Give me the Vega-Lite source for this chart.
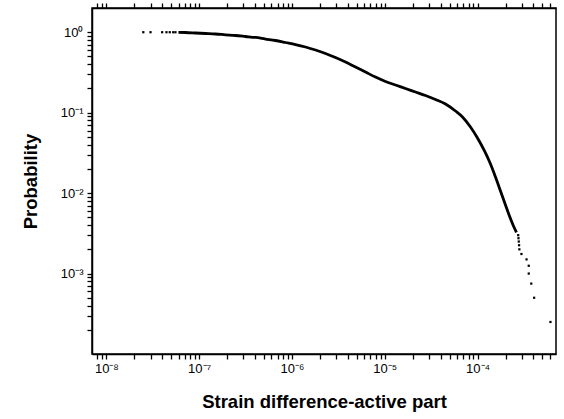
{
  "$schema": "https://vega.github.io/schema/vega-lite/v6.json",
  "width": 464,
  "height": 346,
  "autosize": {"type": "none"},
  "padding": {"left": 92, "top": 8, "right": 8, "bottom": 65},
  "background": "white",
  "config": {
    "view": {"stroke": "black", "strokeWidth": 1.5},
    "axis": {
      "domainColor": "black",
      "domainWidth": 1.5,
      "tickColor": "black",
      "tickWidth": 1.3,
      "tickSize": 5,
      "grid": false,
      "labelFont": "Liberation Sans",
      "labelFontSize": 13,
      "labelColor": "black",
      "labelOverlap": false,
      "labelFlush": false,
      "titleFont": "Liberation Sans",
      "titleFontSize": 18.5,
      "titleFontWeight": "bold",
      "titleColor": "black"
    }
  },
  "datasets": {
    "dense": [
      {"x": 5.98e-8, "y": 0.998},
      {"x": 7.12e-8, "y": 0.992},
      {"x": 9.13e-8, "y": 0.978},
      {"x": 1.17e-7, "y": 0.964},
      {"x": 1.499e-7, "y": 0.95},
      {"x": 1.921e-7, "y": 0.929},
      {"x": 2.461e-7, "y": 0.91},
      {"x": 3.155e-7, "y": 0.885},
      {"x": 4.044e-7, "y": 0.86},
      {"x": 5.183e-7, "y": 0.823},
      {"x": 6.643e-7, "y": 0.789},
      {"x": 8.514e-7, "y": 0.745},
      {"x": 1.091e-6, "y": 0.703},
      {"x": 1.398e-6, "y": 0.655},
      {"x": 1.792e-6, "y": 0.601},
      {"x": 2.297e-6, "y": 0.544},
      {"x": 2.943e-6, "y": 0.485},
      {"x": 3.773e-6, "y": 0.426},
      {"x": 4.834e-6, "y": 0.369},
      {"x": 6.196e-6, "y": 0.32},
      {"x": 7.943e-6, "y": 0.277},
      {"x": 1.018e-5, "y": 0.244},
      {"x": 1.305e-5, "y": 0.221},
      {"x": 1.672e-5, "y": 0.1996},
      {"x": 2.143e-5, "y": 0.1806},
      {"x": 2.747e-5, "y": 0.1633},
      {"x": 3.519e-5, "y": 0.1457},
      {"x": 4.511e-5, "y": 0.1281},
      {"x": 5.781e-5, "y": 0.1048},
      {"x": 6.878e-5, "y": 0.0883},
      {"x": 8.388e-5, "y": 0.0663},
      {"x": 9.98e-5, "y": 0.0484},
      {"x": 1.187e-4, "y": 0.0334},
      {"x": 1.378e-4, "y": 0.023},
      {"x": 1.56e-4, "y": 0.01585},
      {"x": 1.766e-4, "y": 0.01062},
      {"x": 1.999e-4, "y": 0.00711},
      {"x": 2.207e-4, "y": 0.00519},
      {"x": 2.437e-4, "y": 0.0039},
      {"x": 2.626e-4, "y": 0.00325}
    ],
    "sparse": [
      {"x": 2.5e-8, "y": 1.0},
      {"x": 2.99e-8, "y": 1.0},
      {"x": 3.99e-8, "y": 0.9999},
      {"x": 4.44e-8, "y": 0.9998},
      {"x": 4.82e-8, "y": 0.9997},
      {"x": 5.25e-8, "y": 0.9995},
      {"x": 5.55e-8, "y": 0.9993},
      {"x": 2.74e-4, "y": 0.003},
      {"x": 2.76e-4, "y": 0.00275},
      {"x": 2.78e-4, "y": 0.0025},
      {"x": 2.8e-4, "y": 0.00225},
      {"x": 2.82e-4, "y": 0.002},
      {"x": 2.97e-4, "y": 0.00175},
      {"x": 3.37e-4, "y": 0.0015},
      {"x": 3.56e-4, "y": 0.00125},
      {"x": 3.56e-4, "y": 0.001},
      {"x": 3.79e-4, "y": 0.00075},
      {"x": 4.07e-4, "y": 0.0005},
      {"x": 6.1e-4, "y": 0.00025}
    ]
  },
  "layer": [
    {
      "data": {"name": "dense"},
      "mark": {"type": "line", "color": "black", "strokeWidth": 2.8, "interpolate": "monotone"},
      "encoding": {
        "x": {
          "field": "x", "type": "quantitative",
          "scale": {"type": "log", "domain": [7e-9, 7e-4], "nice": false},
          "axis": {
            "orient": "bottom",
            "values": [8e-9, 9e-9, 1e-8, 2e-8, 3e-8, 4e-8, 5e-8, 6e-8, 7e-8, 8e-8, 9e-8, 1e-7, 2e-7, 3e-7, 4e-7, 5e-7, 6e-7, 7e-7, 8e-7, 9e-7, 1e-6, 2e-6, 3e-6, 4e-6, 5e-6, 6e-6, 7e-6, 8e-6, 9e-6, 1e-5, 2e-5, 3e-5, 4e-5, 5e-5, 6e-5, 7e-5, 8e-5, 9e-5, 1e-4, 2e-4, 3e-4, 4e-4, 5e-4, 6e-4],
            "labelExpr": "abs(log(datum.value)/LN10 - round(log(datum.value)/LN10)) < 0.001 ? '10' + (datum.value < 0.5 ? '⁻' : '') + ['⁰','¹','²','³','⁴','⁵','⁶','⁷','⁸','⁹'][abs(round(log(datum.value)/LN10))] : ''",
            "labelPadding": 3,
            "title": "Strain difference-active part",
            "titlePadding": 17
          }
        },
        "y": {
          "field": "y", "type": "quantitative",
          "scale": {"type": "log", "domain": [1e-4, 2], "nice": false},
          "axis": {
            "values": [2e-4, 3e-4, 4e-4, 5e-4, 6e-4, 7e-4, 8e-4, 9e-4, 1e-3, 2e-3, 3e-3, 4e-3, 5e-3, 6e-3, 7e-3, 8e-3, 9e-3, 1e-2, 2e-2, 3e-2, 4e-2, 5e-2, 6e-2, 7e-2, 8e-2, 9e-2, 0.1, 0.2, 0.3, 0.4, 0.5, 0.6, 0.7, 0.8, 0.9, 1],
            "labelExpr": "abs(log(datum.value)/LN10 - round(log(datum.value)/LN10)) < 0.001 ? '10' + (datum.value < 0.5 ? '⁻' : '') + ['⁰','¹','²','³','⁴','⁵','⁶','⁷','⁸','⁹'][abs(round(log(datum.value)/LN10))] : ''",
            "labelPadding": 4,
            "title": "Probability",
            "titlePadding": 20
          }
        }
      }
    },
    {
      "data": {"name": "sparse"},
      "mark": {"type": "point", "shape": "square", "filled": true, "size": 5, "color": "black", "opacity": 1},
      "encoding": {
        "x": {
          "field": "x", "type": "quantitative",
          "scale": {"type": "log", "domain": [7e-9, 7e-4], "nice": false},
          "axis": {
            "orient": "top",
            "values": [8e-9, 9e-9, 1e-8, 2e-8, 3e-8, 4e-8, 5e-8, 6e-8, 7e-8, 8e-8, 9e-8, 1e-7, 2e-7, 3e-7, 4e-7, 5e-7, 6e-7, 7e-7, 8e-7, 9e-7, 1e-6, 2e-6, 3e-6, 4e-6, 5e-6, 6e-6, 7e-6, 8e-6, 9e-6, 1e-5, 2e-5, 3e-5, 4e-5, 5e-5, 6e-5, 7e-5, 8e-5, 9e-5, 1e-4, 2e-4, 3e-4, 4e-4, 5e-4, 6e-4],
            "labels": false,
            "title": null
          }
        },
        "y": {
          "field": "y", "type": "quantitative",
          "scale": {"type": "log", "domain": [1e-4, 2], "nice": false}
        }
      }
    }
  ],
  "resolve": {"axis": {"x": "independent"}}
}
